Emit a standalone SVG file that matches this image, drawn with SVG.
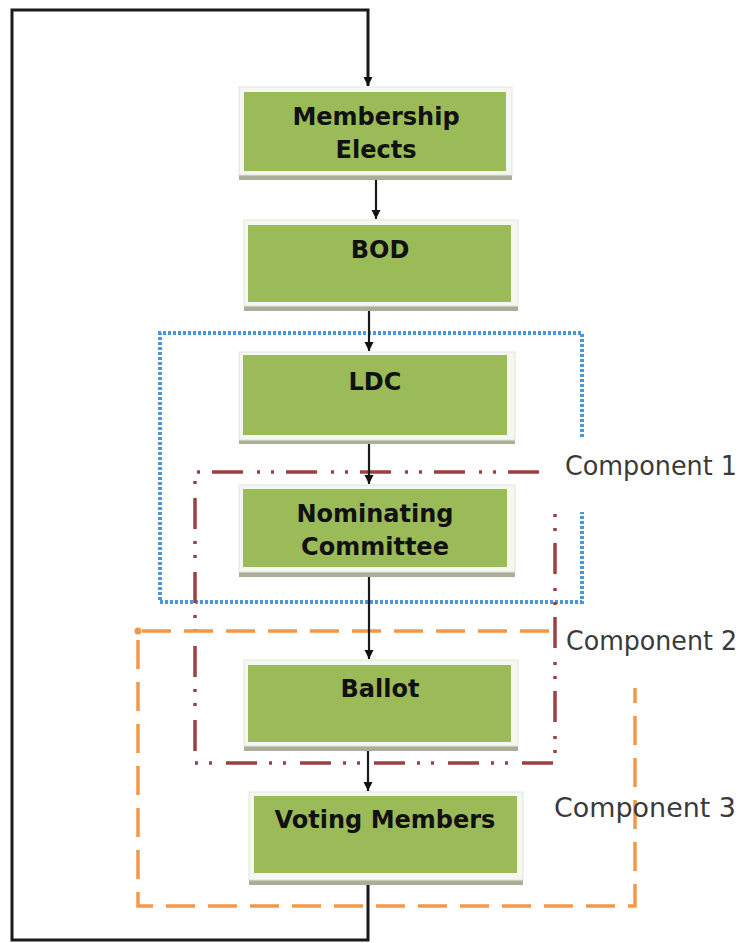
<svg xmlns="http://www.w3.org/2000/svg" width="749" height="943" viewBox="0 0 749 943">
  <defs>
    <marker id="arrow" markerUnits="userSpaceOnUse" markerWidth="10" markerHeight="10" refX="9" refY="5" orient="auto">
      <path d="M0,0.5 L9,5 L0,9.5 Z" fill="#111"/>
    </marker>
    <style>
      .shadow { fill: #a9ae98; }
      .frame { fill: #f5f7f1; stroke: #e2e5da; stroke-width: 1; }
      .box { fill: #9bbb59; }
      .label { font-family: "DejaVu Sans", Verdana, sans-serif; font-weight: bold; font-size: 24px; fill: #111; text-anchor: middle; }
      .comp { font-family: "DejaVu Sans", Tahoma, sans-serif; font-size: 27px; fill: #3a3a3a; }
      .link { fill: none; stroke: #1a1a1a; stroke-width: 2.2; }
      .loop { fill: none; stroke: #1a1a1a; stroke-width: 3; }
    </style>
  </defs>
  <rect width="749" height="943" fill="#ffffff"/>

  <!-- component outlines -->
  <g id="component-1">
    <path d="M582,437 L582,333 L160,333 L160,602 L582,602 L582,512" fill="none" stroke="#4f96d8" stroke-width="4" stroke-dasharray="3 2"/>
    <text class="comp" x="565" y="475" textLength="172" lengthAdjust="spacingAndGlyphs">Component 1</text>
  </g>
  <g id="component-2">
    <path d="M539,472 L195,472 L195,763 L555,763 L555,512" fill="none" stroke="#9e3f42" stroke-width="3.5" stroke-dasharray="31 12 3 11 3 14"/>
    <text class="comp" x="566" y="650" textLength="171" lengthAdjust="spacingAndGlyphs">Component 2</text>
  </g>
  <g id="component-3">
    <path d="M549,631 L138,631 L138,906 L635,906 L635,688" fill="none" stroke="#f79646" stroke-width="3.5" stroke-dasharray="29 13"/>
    <circle cx="138" cy="631" r="3.5" fill="#f79646"/>
    <text class="comp" x="554" y="817" textLength="182" lengthAdjust="spacingAndGlyphs">Component 3</text>
  </g>

  <!-- connectors -->
  <g id="connectors">
    <path class="loop" d="M368,885 L368,940 L12,940 L12,10 L368,10 L368,86" marker-end="url(#arrow)"/>
    <path class="link" d="M376,178 L376,219" marker-end="url(#arrow)"/>
    <path class="link" d="M369,311 L369,351" marker-end="url(#arrow)"/>
    <path class="link" d="M369,444 L369,484" marker-end="url(#arrow)"/>
    <path class="link" d="M369,577 L369,659" marker-end="url(#arrow)"/>
    <path class="link" d="M368,751 L368,791" marker-end="url(#arrow)"/>
  </g>

  <!-- nodes -->
  <g id="membership-elects">
    <rect class="shadow" x="239" y="92" width="273" height="88"/>
    <rect class="frame" x="239" y="87" width="273" height="88"/>
    <rect class="box" x="244" y="92" width="262" height="79"/>
    <text class="label" x="376" y="125">Membership</text>
    <text class="label" x="376" y="158">Elects</text>
  </g>
  <g id="bod">
    <rect class="shadow" x="244" y="225" width="274" height="86"/>
    <rect class="frame" x="244" y="220" width="274" height="86"/>
    <rect class="box" x="248" y="225" width="263" height="77"/>
    <text class="label" x="380" y="258">BOD</text>
  </g>
  <g id="ldc">
    <rect class="shadow" x="239" y="356" width="276" height="88"/>
    <rect class="frame" x="239" y="352" width="276" height="88"/>
    <rect class="box" x="243" y="355" width="264" height="80"/>
    <text class="label" x="375" y="390">LDC</text>
  </g>
  <g id="nominating-committee">
    <rect class="shadow" x="239" y="490" width="276" height="87"/>
    <rect class="frame" x="239" y="485" width="276" height="87"/>
    <rect class="box" x="243" y="489" width="264" height="78"/>
    <text class="label" x="375" y="522">Nominating</text>
    <text class="label" x="375" y="555">Committee</text>
  </g>
  <g id="ballot">
    <rect class="shadow" x="244" y="665" width="274" height="86"/>
    <rect class="frame" x="244" y="660" width="274" height="86"/>
    <rect class="box" x="248" y="665" width="263" height="77"/>
    <text class="label" x="380" y="697">Ballot</text>
  </g>
  <g id="voting-members">
    <rect class="shadow" x="249" y="797" width="274" height="88"/>
    <rect class="frame" x="249" y="792" width="274" height="88"/>
    <rect class="box" x="254" y="796" width="263" height="77"/>
    <text class="label" x="385" y="828">Voting Members</text>
  </g>
</svg>
